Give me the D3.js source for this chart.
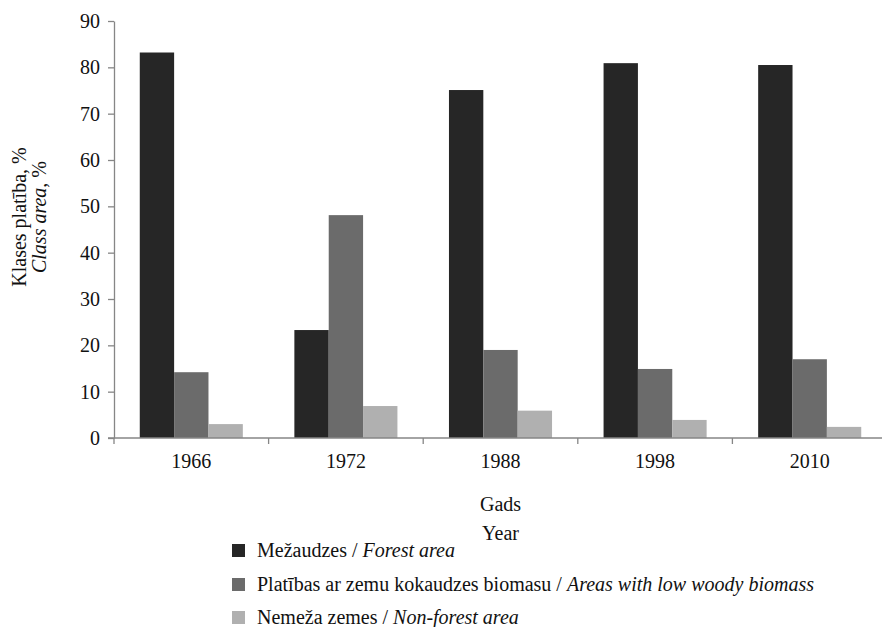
<!DOCTYPE html>
<html>
<head>
<meta charset="utf-8">
<script src="https://cdn.jsdelivr.net/npm/d3@7"></script>
<style>
  body { margin: 0; background: #fff; }
  svg { display: block; }
  text { font-family: "Liberation Serif", "Times New Roman", serif; fill: #111; }
</style>
</head>
<body>
<svg id="chart" width="882" height="627"></svg>
<script>
const years = ["1966", "1972", "1988", "1998", "2010"];
const seriesKeys = ["forest", "lowBiomass", "nonForest"];
const forestArea = [83.2, 23.3, 75.1, 80.9, 80.5];
const lowBiomassArea = [14.2, 48.1, 19.0, 14.9, 17.0];
const nonForestArea = [3.0, 6.9, 5.9, 3.9, 2.4];
const yTicks = [0, 10, 20, 30, 40, 50, 60, 70, 80, 90];
const seriesColors = ["#262626", "#6b6b6b", "#b0b0b0"];
const legendLatvian = ["Mežaudzes", "Platības ar zemu kokaudzes biomasu", "Nemeža zemes"];
const legendEnglish = ["Forest area", "Areas with low woody biomass", "Non-forest area"];

const seriesValues = [forestArea, lowBiomassArea, nonForestArea];
const table = years.map((yr, i) => ({
  year: yr,
  values: seriesKeys.map((k, j) => ({ key: k, idx: j, value: seriesValues[j][i] }))
}));

const svg = d3.select("#chart");
const fontSize = 20;
const axisColor = "#868686";

const mLeft = 114, mRight = 887, mTop = 21, mBottom = 438;

const x0 = d3.scaleBand().domain(years).range([mLeft, mRight]).paddingInner(0).paddingOuter(0);
const x1 = d3.scaleBand().domain(seriesKeys).range([0, x0.bandwidth()]).paddingInner(0).paddingOuter(0.75);
const y = d3.scaleLinear().domain([0, 90]).range([mBottom, mTop]);

// bars
const groups = svg.append("g").selectAll("g").data(table).join("g")
  .attr("transform", d => `translate(${x0(d.year)},0)`);
groups.selectAll("rect").data(d => d.values).join("rect")
  .attr("x", d => x1(d.key))
  .attr("width", x1.bandwidth())
  .attr("y", d => y(d.value))
  .attr("height", d => y(0) - y(d.value))
  .attr("fill", d => seriesColors[d.idx]);

// y axis
const yAxis = svg.append("g").attr("transform", `translate(${mLeft},0)`)
  .call(d3.axisLeft(y).tickValues(yTicks).tickSizeInner(6).tickSizeOuter(0).tickPadding(8));
yAxis.select(".domain").attr("stroke", axisColor).attr("stroke-width", 1.3);
yAxis.selectAll(".tick line").attr("stroke", axisColor).attr("stroke-width", 1.3);
yAxis.selectAll(".tick text").attr("font-size", fontSize).attr("font-family", "Liberation Serif").attr("fill", "#111");

// x axis line
svg.append("line").attr("x1", mLeft - 6).attr("x2", mRight).attr("y1", mBottom).attr("y2", mBottom)
  .attr("stroke", axisColor).attr("stroke-width", 1.3);
// boundary ticks
const boundaries = years.map(yr => x0(yr)).concat([x0.range()[1]]);
svg.append("g").selectAll("line").data(boundaries).join("line")
  .attr("x1", d => d).attr("x2", d => d).attr("y1", mBottom).attr("y2", mBottom + 6)
  .attr("stroke", axisColor).attr("stroke-width", 1.3);
// category labels
svg.append("g").selectAll("text").data(years).join("text")
  .attr("x", d => x0(d) + x0.bandwidth() / 2)
  .attr("y", 468)
  .attr("text-anchor", "middle")
  .attr("font-size", fontSize)
  .text(d => d);

// x title
const cx = (mLeft + mRight) / 2;
svg.append("text").attr("x", cx).attr("y", 511).attr("text-anchor", "middle").attr("font-size", fontSize).text("Gads");
svg.append("text").attr("x", cx).attr("y", 540).attr("text-anchor", "middle").attr("font-size", fontSize).text("Year");

// y title
const yt = svg.append("g").attr("transform", `translate(26,217) rotate(-90)`);
yt.append("text").attr("x", 0).attr("y", 0).attr("text-anchor", "middle").attr("font-size", fontSize).text("Klases platība, %");
const t2 = yt.append("text").attr("x", 0).attr("y", 20).attr("text-anchor", "middle").attr("font-size", fontSize);
t2.append("tspan").attr("font-style", "italic").text("Class area, ");
t2.append("tspan").text("%");

// legend
const legendY = [557, 591, 624];
const lg = svg.append("g").selectAll("g").data(seriesKeys).join("g")
  .attr("transform", (d, i) => `translate(232,${legendY[i]})`);
lg.append("rect").attr("x", 0).attr("y", -13).attr("width", 13).attr("height", 13)
  .attr("fill", (d, i) => seriesColors[i]);
const lt = lg.append("text").attr("x", 25).attr("y", 0).attr("font-size", fontSize);
lt.append("tspan").text((d, i) => legendLatvian[i] + " / ");
lt.append("tspan").attr("font-style", "italic").text((d, i) => legendEnglish[i]);
</script>
</body>
</html>
